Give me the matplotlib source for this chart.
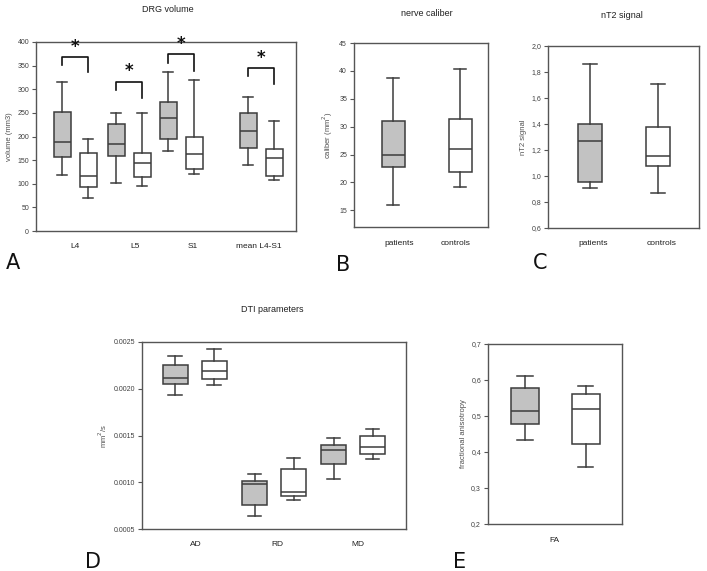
import matplotlib
matplotlib.use("Agg")
import matplotlib.pyplot as plt

# ---- data: whisker low, q1, median, q3, whisker high ----
drg_groups = ['L4', 'L5', 'S1', 'mean L4-S1']
drg_patients = [[119, 156, 188, 252, 315],
                [102, 159, 185, 227, 249],
                [170, 194, 239, 272, 336],
                [140, 176, 212, 250, 284]]
drg_controls = [[70, 93, 116, 166, 195],
                [96, 114, 143, 166, 249],
                [120, 131, 164, 200, 319],
                [107, 117, 154, 174, 233]]
# significance brackets: top, left leg end, right leg end
drg_brackets = [[368, 352, 336], [316, 299, 281], [374, 355, 339], [345, 327, 311]]

caliber_groups = ['patients', 'controls']
caliber_stats = [[16.0, 22.7, 25.0, 31.0, 38.8],
                 [19.2, 21.8, 25.9, 31.4, 40.4]]

nt2_groups = ['patients', 'controls']
nt2_stats = [[0.91, 0.954, 1.272, 1.40, 1.864],
             [0.872, 1.074, 1.156, 1.38, 1.71]]

dti_groups = ['AD', 'RD', 'MD']
dti_patients = [[0.001928, 0.002052, 0.002116, 0.002255, 0.002347],
                [0.000642, 0.000752, 0.000976, 0.001012, 0.001093],
                [0.001039, 0.001196, 0.001349, 0.001399, 0.001477]]
dti_controls = [[0.002038, 0.002106, 0.002190, 0.002294, 0.002422],
                [0.000813, 0.000855, 0.000901, 0.001146, 0.001256],
                [0.001246, 0.001299, 0.001381, 0.001498, 0.001569]]

fa_groups = ['FA']
fa_patients = [[0.432, 0.477, 0.513, 0.578, 0.612]]
fa_controls = [[0.357, 0.422, 0.519, 0.562, 0.584]]

GREY = '#c2c2c2'
EDGE = '#3c3c3c'
TXT = '#404040'
plt.rcParams['font.family'] = ['Liberation Sans', 'DejaVu Sans']


def to_stats(rows):
    return [dict(whislo=r[0], q1=r[1], med=r[2], q3=r[3], whishi=r[4], fliers=[]) for r in rows]


def draw_boxes(ax, rows, pos, width, fill):
    lw = 1.1
    ax.bxp(to_stats(rows), positions=pos, widths=width, patch_artist=True,
           showfliers=False, manage_ticks=False,
           boxprops=dict(facecolor=fill, edgecolor=EDGE, linewidth=lw),
           medianprops=dict(color=EDGE, linewidth=lw),
           whiskerprops=dict(color=EDGE, linewidth=lw),
           capprops=dict(color=EDGE, linewidth=lw),
           capwidths=width * 0.55)


def style(ax, ylabel, ticks, ticklabels, xticks, xlabels, xmax):
    ax.set_xlim(0, xmax)
    ax.set_yticks(ticks)
    ax.set_yticklabels(ticklabels)
    ax.set_xticks(xticks)
    ax.set_xticklabels(xlabels)
    ax.tick_params(axis='x', length=0, pad=9, labelsize=6, labelcolor='#202020')
    ax.tick_params(axis='y', length=3, width=0.8, color='#555555', pad=2,
                   labelsize=5, labelcolor=TXT)
    ax.set_ylabel(ylabel, fontsize=5.5, color='#505050', labelpad=3)
    for s in ax.spines.values():
        s.set_color('#555555')
        s.set_linewidth(1.0)


fig = plt.figure(figsize=(7.07, 5.71), dpi=100)

# ---- A: DRG volume ----
axA = fig.add_axes([36 / 707, 1 - 231 / 571, 260 / 707, 189 / 571])
centers = [39, 93, 145, 225]
pat_pos = [c - 13 for c in centers]
con_pos = [c + 13 for c in centers]
draw_boxes(axA, drg_patients, pat_pos, 17, GREY)
draw_boxes(axA, drg_controls, con_pos, 17, 'white')
for xl, xr, (top, l_end, r_end) in zip(pat_pos, con_pos, drg_brackets):
    axA.plot([xl, xl, xr, xr], [l_end, top, top, r_end], color='#111111', lw=1.2)
    axA.text((xl + xr) / 2, top + 3, '*', ha='center', va='bottom',
             fontsize=12, fontweight='bold', color='#111111', family='DejaVu Sans')
axA.set_ylim(0, 400)
style(axA, 'volume (mm3)', range(0, 401, 50), [str(v) for v in range(0, 401, 50)],
      [39, 99, 157, 223], drg_groups, 260)

# ---- B: nerve caliber ----
axB = fig.add_axes([354 / 707, 1 - 227 / 571, 134 / 707, 184 / 571])
draw_boxes(axB, caliber_stats[:1], [39], 23, GREY)
draw_boxes(axB, caliber_stats[1:], [106], 23, 'white')
axB.set_ylim(12, 45)
style(axB, 'caliber (mm$^2$)', range(15, 46, 5), [str(v) for v in range(15, 46, 5)],
      [45, 102], caliber_groups, 134)

# ---- C: nT2 signal ----
axC = fig.add_axes([548 / 707, 1 - 228 / 571, 151 / 707, 182 / 571])
draw_boxes(axC, nt2_stats[:1], [42], 24, GREY)
draw_boxes(axC, nt2_stats[1:], [110], 24, 'white')
axC.set_ylim(0.6, 2.0)
cticks = [0.6, 0.8, 1.0, 1.2, 1.4, 1.6, 1.8, 2.0]
style(axC, 'nT2 signal', cticks, [f'{v:.1f}'.replace('.', ',') for v in cticks],
      [45, 114], nt2_groups, 151)

# ---- D: DTI parameters ----
axD = fig.add_axes([142 / 707, 1 - 529 / 571, 264 / 707, 187 / 571])
dcent = [52.5, 132, 211]
draw_boxes(axD, dti_patients, [c - 19.5 for c in dcent], 25, GREY)
draw_boxes(axD, dti_controls, [c + 19.5 for c in dcent], 25, 'white')
axD.set_ylim(0.0005, 0.0025)
dticks = [0.0005, 0.0010, 0.0015, 0.0020, 0.0025]
style(axD, 'mm$^2$/s', dticks, [f'{v:.4f}' for v in dticks],
      [54, 135, 216], dti_groups, 264)

# ---- E: fractional anisotropy ----
axE = fig.add_axes([488 / 707, 1 - 524 / 571, 134 / 707, 180 / 571])
draw_boxes(axE, fa_patients, [37], 28, GREY)
draw_boxes(axE, fa_controls, [97.5], 28, 'white')
axE.set_ylim(0.2, 0.7)
eticks = [0.2, 0.3, 0.4, 0.5, 0.6, 0.7]
style(axE, 'fractional anisotropy', eticks, [f'{v:.1f}'.replace('.', ',') for v in eticks],
      [66], fa_groups, 134)

# ---- titles and panel letters ----
for x, y, t in [(168, 10, 'DRG volume'), (427, 13, 'nerve caliber'),
                (622, 15, 'nT2 signal'), (272, 310, 'DTI parameters')]:
    fig.text(x / 707, 1 - y / 571, t, ha='center', va='center', fontsize=6.5, color='#202020')
for x, y, t in [(13, 263, 'A'), (343, 265, 'B'), (540, 263, 'C'),
                (93, 562, 'D'), (460, 562, 'E')]:
    fig.text(x / 707, 1 - y / 571, t, ha='center', va='center', fontsize=15,
             color='#111111', family='DejaVu Sans')

fig.savefig('out.png', dpi=100, facecolor='white')
